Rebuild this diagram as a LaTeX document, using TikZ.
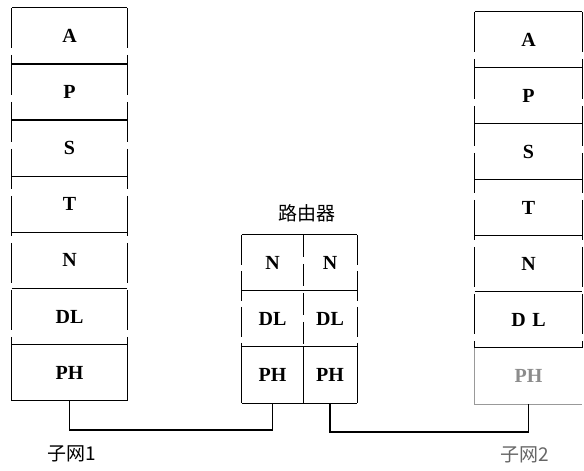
\documentclass[tikz,border=0pt]{standalone}
\usepackage{fontspec}
\setmainfont{Liberation Serif}
\newfontfamily\cjk{Noto Sans CJK SC}
\usetikzlibrary{positioning}

\tikzset{
  layer/.style={minimum height=56pt, inner sep=0pt, font=\fontsize{20}{22}\selectfont\bfseries},
  side/.style={line width=1.2pt, dash pattern=on 40pt off 7pt},
  edge/.style={line width=1.2pt},
  caption/.style={font=\fontsize{19}{22}\selectfont\cjk}
}

\begin{document}
\begin{tikzpicture}[x=1pt, y=-1pt]
            \useasboundingbox (0,0) rectangle (584,471);

            % Left stack (subnet 1)
            \foreach \name [count=\i from 0] in {A,P,S,T,N,DL,PH}
              \node[layer, minimum width=115pt] (l\name) at (69.5, 36+56.1*\i) {\name};
            \foreach \name in {A,P,S,T,N,DL,PH}
              \draw[edge] (l\name.north west) -- (l\name.north east);
            \draw[edge] (lPH.south west) -- (lPH.south east);
            \draw[side] (lA.north west) -- (lDL.south west);
            \draw[side] (lA.north east) -- (lDL.south east);
            \draw[edge] (lPH.north west) -- (lPH.south west);
            \draw[edge] (lPH.north east) -- (lPH.south east);

            % Right stack (subnet 2)
            \foreach \name/\lab [count=\i from 0] in {A/A,P/P,S/S,T/T,N/N,DL/{D\,\,L}}
              \node[layer, minimum width=107pt] (r\name) at (528.5, 40+55.9*\i) {\lab};
            \node[layer, minimum width=107pt, text=black!45, below=0pt of rDL] (rPH) {PH};
            \foreach \name in {A,P,S,T,N,DL}
              \draw[edge] (r\name.north west) -- (r\name.north east);
            \draw[edge] (rDL.south west) -- (rDL.south east);
            \draw[side] (rA.north west) -- (rDL.south west);
            \draw[side] (rA.north east) -- (rDL.south east);
            \draw[edge, black!40] (rPH.north west) -- (rPH.south west) -- (rPH.south east);

            % Router
            \node[caption] (router) at (307,213) {路由器};
            \foreach \name [count=\i from 0] in {N,DL,PH} {
              \node[layer, minimum width=61pt] (\name1) at (272.5, 263+56*\i) {\name};
              \node[layer, minimum width=54pt] (\name2) at (330, 263+56*\i) {\name};
              \draw[edge] (\name1.north west) -- (\name2.north east);
            }
            \draw[edge] (PH1.south west) -- (PH2.south east);
            \draw[side, dash pattern=on 30pt off 6pt] (N1.north west) -- (DL1.south west);
            \draw[side, dash pattern=on 30pt off 6pt] (N2.north east) -- (DL2.south east);
            \draw[side, dash pattern=on 22pt off 7pt] (N1.north east) -- (DL1.south east);
            \draw[edge] (PH1.north west) -- (PH1.south west);
            \draw[edge] (PH1.north east) -- (PH1.south east);
            \draw[edge] (PH2.north east) -- (PH2.south east);

            % Links between subnets and router
            \coordinate (busL) at (0,430);
            \coordinate (busR) at (0,432);
            \draw[edge] (lPH.south) |- (PH1.south |- busL) -- (PH1.south);
            \draw[edge] (PH2.south) |- (rPH.south |- busR) -- (rPH.south);

            % Subnet labels
            \node[caption] (net1) at (72,454) {子网1};
            \node[caption, text=black!60] (net2) at (525,455) {子网2};
\end{tikzpicture}
\end{document}
